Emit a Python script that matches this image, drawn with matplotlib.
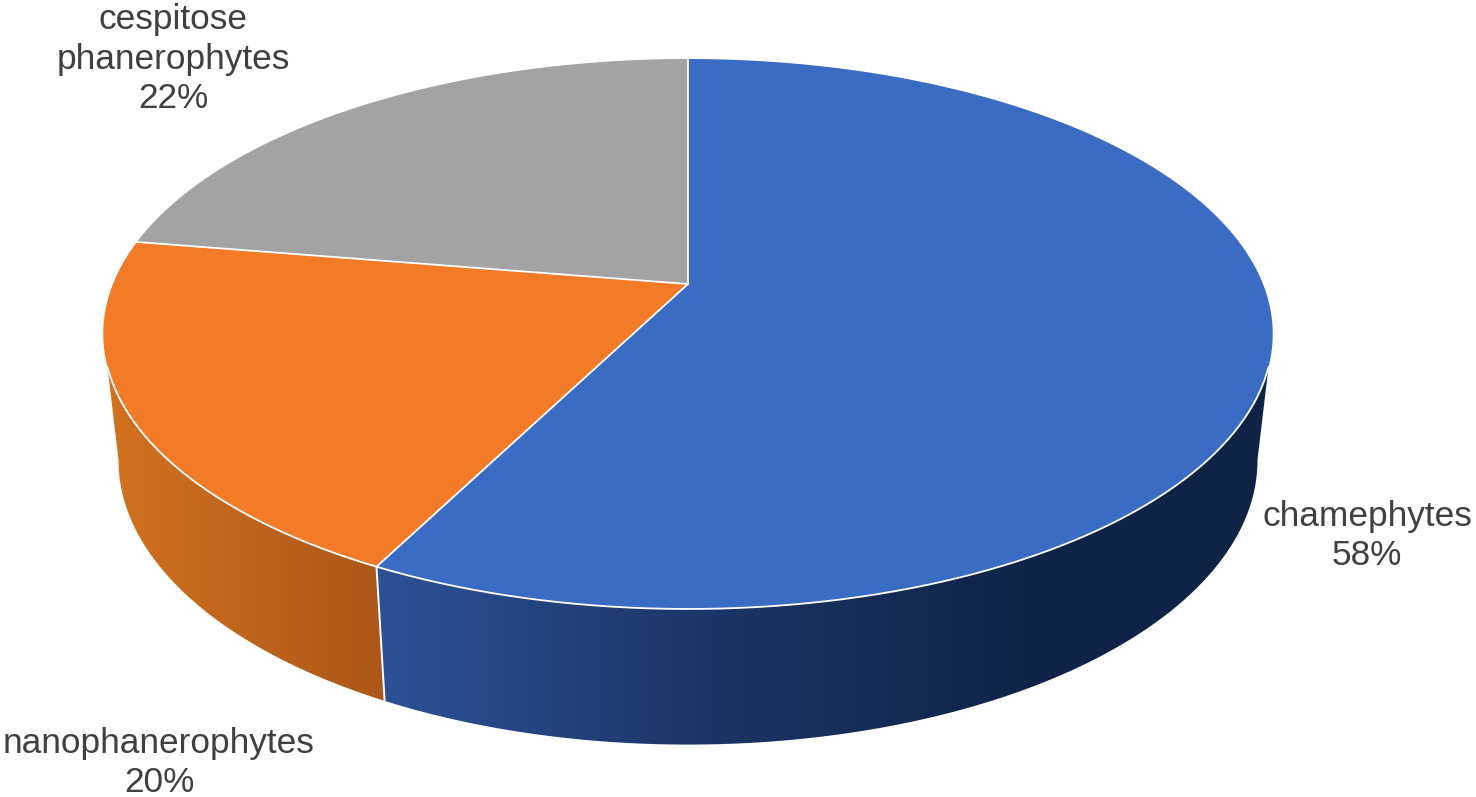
#!/usr/bin/env python3
"""3D pie chart: life forms share, drawn as projected discs in pixel space."""

import numpy as np
import matplotlib
matplotlib.use('Agg')
import matplotlib.pyplot as plt
from matplotlib.colors import LinearSegmentedColormap
from matplotlib.patches import Polygon

plt.rcParams['font.family'] = ['Liberation Sans', 'DejaVu Sans']

# ── Data ─────────────────────────────────────────────────────────────────────
names = ['chamephytes', 'nanophanerophytes', 'cespitose\nphanerophytes']
shares = [57.5, 20.1, 22.4]
top_colors = ['#3b6cc4', '#f37b28', '#a3a3a3']

# ── Geometry (pixels) ────────────────────────────────────────────────────────
W, H = 1476, 797
CX = 688
PERSP = 0.1818
TOP = dict(py=284.0, a=265.9, b=575.0)
LOW = dict(py=408.6, a=274.9, b=560.0)
TOP_SIL = 107.2    # where the side wall leaves the top rim [deg]
LOW_SIL = 100.4    # where it meets the lower rim [deg]


def rim(deg, disc):
    """Angle clockwise from 12 o'clock → pixel position on a perspective disc."""
    t = np.radians(deg)
    u, v = np.sin(t), np.cos(t)
    d = 1 + PERSP * v
    return np.column_stack([CX + disc['b'] * u / d, disc['py'] - disc['a'] * v / d])


def arc(a, b, disc):
    return rim(np.linspace(a, b, 200), disc)


def side_wall(ax, top_a, top_b, low_a, low_b, stops, x0, x1):
    """Side wall piece with a horizontal gradient, clipped to its outline."""
    pts = np.vstack([arc(top_a, top_b, TOP), arc(low_b, low_a, LOW)])
    poly = Polygon(pts, closed=True, facecolor='none', edgecolor='none')
    ax.add_patch(poly)
    cmap = LinearSegmentedColormap.from_list('wall', stops)
    im = ax.imshow(np.linspace(0, 1, 256)[None, :], cmap=cmap, aspect='auto',
                   extent=(x0, x1, H, 0), zorder=1)
    im.set_clip_path(poly)


fig = plt.figure(figsize=(W / 100, H / 100), dpi=100, facecolor='white')
ax = fig.add_axes([0, 0, 1, 1])

edges = np.cumsum([0] + shares) * 3.6

# — Side walls ————————————————————————————————————————————————————————————
side_wall(ax, TOP_SIL, edges[1], LOW_SIL, edges[1],
          [(0, '#2c5296'), (0.4, '#1a3463'), (0.72, '#10244a'), (1, '#0f2347')],
          370, 1275)
side_wall(ax, edges[1], 360 - TOP_SIL, edges[1], 360 - LOW_SIL,
          [(0, '#d2721f'), (1, '#ab5719')], 105, 390)

divider = np.vstack([rim(edges[1], TOP), rim(edges[1], LOW)])
ax.plot(divider[:, 0], divider[:, 1], color='white', lw=1.4, zorder=2)

# — Top face ——————————————————————————————————————————————————————————————
for i, color in enumerate(top_colors):
    outline = np.vstack([[[CX, TOP['py']]], arc(edges[i], edges[i + 1], TOP)])
    ax.add_patch(Polygon(outline, closed=True, facecolor=color, edgecolor='none', zorder=3))

# white separators, and a rim line only along the visible front edge
for e in edges[:-1]:
    p = rim(e, TOP)[0]
    ax.plot([CX, p[0]], [TOP['py'], p[1]], color='white', lw=1.3, zorder=4)
front = arc(TOP_SIL, 360 - TOP_SIL, TOP)
ax.plot(front[:, 0], front[:, 1], color='white', lw=1.3, zorder=4)

# — Labels ————————————————————————————————————————————————————————————————
label_xy = [(1367, 536), (159, 763), (173, 59)]
for name, share, (x, y) in zip(names, shares, label_xy):
    ax.text(x, y, f'{name}\n{share:.0f}%', ha='center', va='center', fontsize=25.4,
            color='#404040', linespacing=1.25, zorder=5)

ax.set_xlim(0, W)
ax.set_ylim(H, 0)
ax.axis('off')

fig.savefig('out.png', dpi=100)
